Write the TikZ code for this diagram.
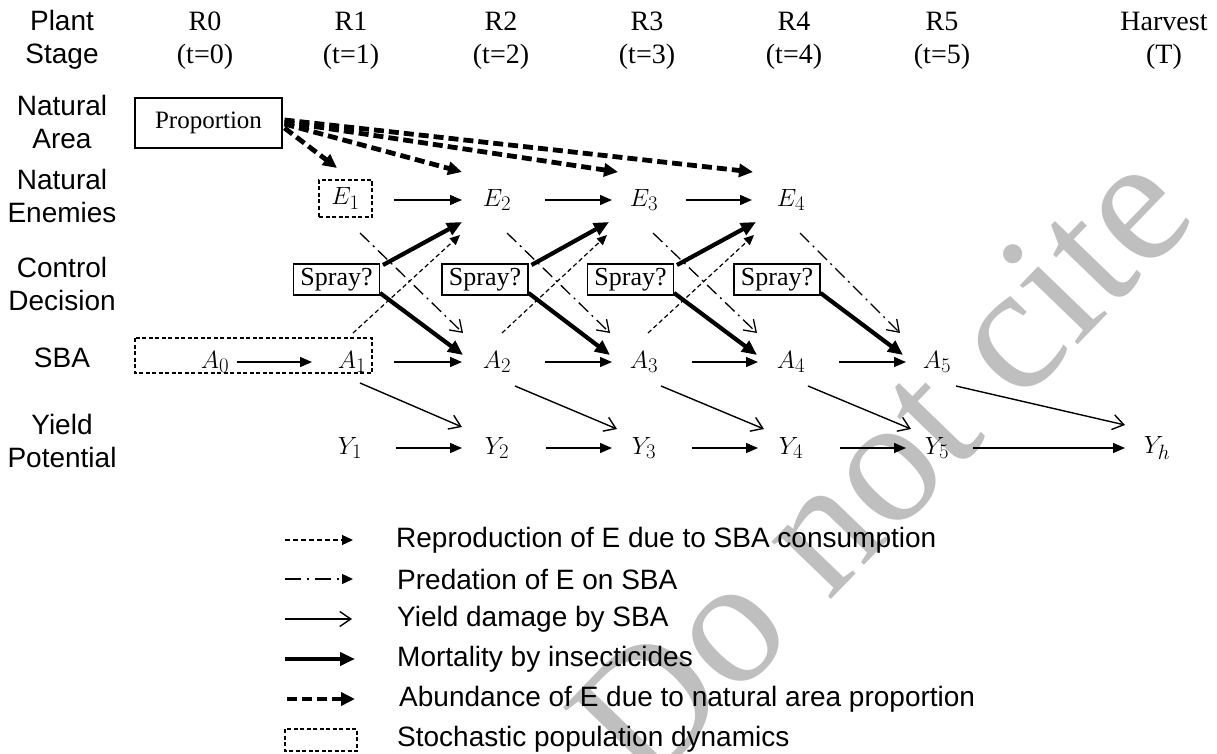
\documentclass[tikz,border=0pt]{standalone}
\usepackage{fontspec}
\setmainfont{Liberation Serif}
\newfontfamily\arialfont{Liberation Sans}
\usetikzlibrary{arrows.meta,calc}
\begin{document}
\begin{tikzpicture}[x=1pt,y=-1pt,
  rowlab/.style={font=\arialfont\fontsize{28}{33}\selectfont, align=center, inner sep=0pt},
  colhead/.style={font=\fontsize{28}{33}\selectfont, align=center, inner sep=0pt},
  var/.style={font=\fontsize{28}{34}\selectfont, inner sep=0pt},
  decbox/.style={draw, line width=1.4pt, font=\fontsize{26}{30}\selectfont, minimum width=86pt, minimum height=31pt, inner sep=0pt},
  stoch/.style={draw, line width=1.2pt, dash pattern=on 4pt off 2.5pt},
  flow/.style={line width=1.5pt, -{Triangle[length=12pt,width=10pt]}},
  mort/.style={line width=4.2pt, -{Triangle[length=15pt,width=13pt]}},
  abund/.style={line width=4.8pt, dash pattern=on 10pt off 5pt, -{Triangle[length=14pt,width=13pt]}},
  repro/.style={line width=1.2pt, dash pattern=on 4.5pt off 3pt, -{Triangle[length=10pt,width=9pt]}},
  pred/.style={line width=1.3pt, dash pattern=on 13pt off 5pt on 2pt off 5pt, -{Straight Barb[length=11pt,width=15pt,line width=1.3pt]}},
  dmg/.style={line width=1.4pt, -{Straight Barb[length=11pt,width=15pt,line width=1.4pt]}},
  legtext/.style={font=\arialfont\fontsize{28}{32}\selectfont, anchor=west, inner sep=0pt},
]
\path[use as bounding box] (0,0) rectangle (1217,754);
\fill[white] (0,0) rectangle (1217,754);

% watermark
\node[rotate=46, text=black!25, font=\fontsize{180}{180}\selectfont, inner sep=0pt] (wm) at (880,465) {Do not cite};

% row labels
\node[rowlab] (lPlant) at (62,39.5) {Plant\\Stage};
\node[rowlab] (lArea) at (62,121.5) {Natural\\Area};
\node[rowlab] (lEnem) at (62,196) {Natural\\Enemies};
\node[rowlab] (lCtrl) at (62,284) {Control\\Decision};
\node[rowlab] (lSBA) at (62,358) {SBA};
\node[rowlab] (lYield) at (62,441) {Yield\\Potential};

% column headers
\node[colhead] (h0) at (205,41) {R0\\(t=0)};
\node[colhead] (h1) at (351,41) {R1\\(t=1)};
\node[colhead] (h2) at (501,41) {R2\\(t=2)};
\node[colhead] (h3) at (647,41) {R3\\(t=3)};
\node[colhead] (h4) at (794,41) {R4\\(t=4)};
\node[colhead] (h5) at (942,41) {R5\\(t=5)};
\node[colhead] (hT) at (1164,41) {Harvest\\(T)};

% natural area
\node[draw, line width=1.4pt, minimum width=147pt, minimum height=50pt, inner sep=0pt, font=\fontsize{25}{28}\selectfont] (prop) at (208.5,123) {Proportion};

% enemies
\node[var, stoch, minimum width=53pt, minimum height=37pt] (E1) at (345.5,198.5) {$E_1$};
\node[var] (E2) at (497,200) {$E_2$};
\node[var] (E3) at (644,200) {$E_3$};
\node[var] (E4) at (791,200) {$E_4$};

% spray decisions
\node[decbox] (S1) at (336.5,279.5) {Spray?};
\node[decbox] (S2) at (485,279.5) {Spray?};
\node[decbox] (S3) at (630.5,279.5) {Spray?};
\node[decbox] (S4) at (777,279.5) {Spray?};

% SBA
\draw[stoch] (135,338) rectangle (372,373);
\node[var] (A0) at (215,362) {$A_0$};
\node[var] (A1) at (352,362) {$A_1$};
\node[var] (A2) at (497,362) {$A_2$};
\node[var] (A3) at (644,362) {$A_3$};
\node[var] (A4) at (791,362) {$A_4$};
\node[var] (A5) at (937,362) {$A_5$};

% yield
\node[var] (Y1) at (350,448) {$Y_1$};
\node[var] (Y2) at (497,448) {$Y_2$};
\node[var] (Y3) at (644,448) {$Y_3$};
\node[var] (Y4) at (791,448) {$Y_4$};
\node[var] (Y5) at (937,448) {$Y_5$};
\node[var] (Yh) at (1157,448) {$Y_h$};

% horizontal flows
\draw[flow] ($(E1)+(48.5,1.5)$) -- ($(E2)+(-35,0)$);
\draw[flow] ($(E2)+(48,0)$) -- ($(E3)+(-32,0)$);
\draw[flow] ($(E3)+(42,0)$) -- ($(E4)+(-39,0)$);
\draw[flow] ($(A0)+(22,0)$) -- ($(A1)+(-40,0)$);
\draw[flow] ($(A1)+(42,0)$) -- ($(A2)+(-35,0)$);
\draw[flow] ($(A2)+(48,0)$) -- ($(A3)+(-32,0)$);
\draw[flow] ($(A3)+(48,0)$) -- ($(A4)+(-33,0)$);
\draw[flow] ($(A4)+(48,0)$) -- ($(A5)+(-31,0)$);
\draw[flow] ($(Y1)+(46,0)$) -- ($(Y2)+(-35,0)$);
\draw[flow] ($(Y2)+(49,0)$) -- ($(Y3)+(-32,0)$);
\draw[flow] ($(Y3)+(48,0)$) -- ($(Y4)+(-33,0)$);
\draw[flow] ($(Y4)+(49,0)$) -- ($(Y5)+(-31,0)$);
\draw[flow] ($(Y5)+(36,0)$) -- ($(Yh)+(-32,0)$);

% abundance
\draw[abund] ($(prop)+(76,5)$) -- ($(E1)+(-8.5,-30.5)$);
\draw[abund] ($(prop)+(76,1)$) -- ($(E2)+(-35,-28)$);
\draw[abund] ($(prop)+(76,-1)$) -- ($(E3)+(-26,-28)$);
\draw[abund] ($(prop)+(76,-3)$) -- ($(E4)+(-38,-28)$);

% reproduction
\draw[repro] ($(A1)+(1,-29)$) -- ($(E2)+(-37,35)$);
\draw[repro] ($(A2)+(5,-29)$) -- ($(E3)+(-37,35)$);
\draw[repro] ($(A3)+(4,-29)$) -- ($(E4)+(-37,35)$);

% predation
\draw[pred] ($(E1)+(14.5,34.5)$) -- ($(A2)+(-34,-29)$);
\draw[pred] ($(E2)+(10,33)$) -- ($(A3)+(-34,-29)$);
\draw[pred] ($(E3)+(9,33)$) -- ($(A4)+(-34,-29)$);
\draw[pred] ($(E4)+(9,33)$) -- ($(A5)+(-37,-29)$);

% mortality
\draw[mort] ($(S1)+(46.5,-14.5)$) -- ($(E2)+(-35,22)$);
\draw[mort] ($(S1)+(43.5,13.5)$) -- ($(A2)+(-34,-7)$);
\draw[mort] ($(S2)+(46.5,-14.5)$) -- ($(E3)+(-35,22)$);
\draw[mort] ($(S2)+(43.5,13.5)$) -- ($(A3)+(-34,-7)$);
\draw[mort] ($(S3)+(46.5,-14.5)$) -- ($(E4)+(-35,22)$);
\draw[mort] ($(S3)+(43.5,13.5)$) -- ($(A4)+(-34,-7)$);
\draw[mort] ($(S4)+(43.5,13.5)$) -- ($(A5)+(-34,-7)$);

% yield damage
\draw[dmg] ($(A1)+(8,21)$) -- ($(Y2)+(-35,-21)$);
\draw[dmg] ($(A2)+(18,24)$) -- ($(Y3)+(-27,-19)$);
\draw[dmg] ($(A3)+(17,24)$) -- ($(Y4)+(-27,-19)$);
\draw[dmg] ($(A4)+(17,24)$) -- ($(Y5)+(-26,-19)$);
\draw[dmg] ($(A5)+(19,24)$) -- ($(Yh)+(-32,-23)$);

% legend
\coordinate (g1a) at (285,540); \coordinate (g1b) at (353,540);
\coordinate (g2a) at (285,579); \coordinate (g2b) at (353,579);
\coordinate (g3a) at (285,619); \coordinate (g3b) at (352,619);
\coordinate (g4a) at (285,659); \coordinate (g4b) at (355,659);
\coordinate (g5a) at (287,699); \coordinate (g5b) at (355,699);
\draw[line width=1.2pt, dash pattern=on 5pt off 3pt, -{Triangle[length=11pt,width=10pt]}] (g1a) -- (g1b);
\draw[line width=1.3pt, dash pattern=on 16pt off 6pt on 2pt off 6pt, -{Triangle[length=11pt,width=10pt]}] (g2a) -- (g2b);
\draw[dmg] (g3a) -- (g3b);
\draw[mort] (g4a) -- (g4b);
\draw[abund] (g5a) -- (g5b);
\draw[stoch] (285,729) rectangle (357,751);
\node[legtext] (t1) at (396,540) {Reproduction of E due to SBA consumption};
\node[legtext] (t2) at (397,579) {Predation of E on SBA};
\node[legtext] (t3) at (397,619) {Yield damage by SBA};
\node[legtext] (t4) at (397,659) {Mortality by insecticides};
\node[legtext] (t5) at (399,699) {Abundance of E due to natural area proportion};
\node[legtext] (t6) at (397,739) {Stochastic population dynamics};
\end{tikzpicture}
\end{document}
